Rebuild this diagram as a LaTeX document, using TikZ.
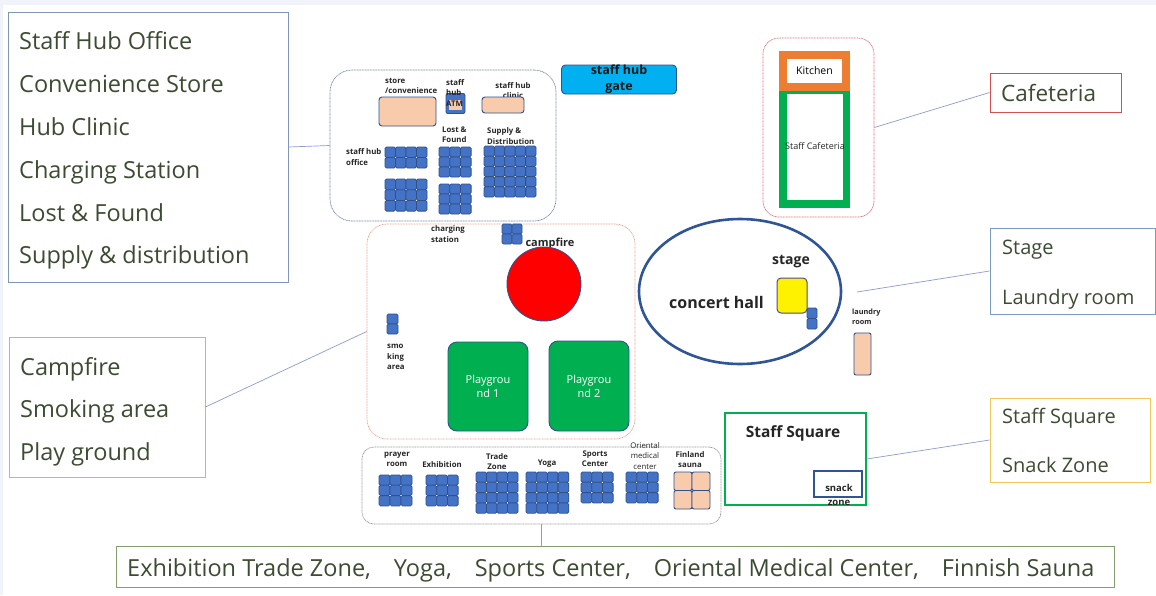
\documentclass[tikz,border=0pt]{standalone}
\usepackage{fontspec}
\setmainfont{Open Sans}
\usetikzlibrary{shapes.geometric}
\definecolor{lbltxt}{RGB}{60,76,50}
\definecolor{hubbd}{RGB}{128,150,185}
\definecolor{orgbd}{RGB}{230,170,120}
\definecolor{cafebd}{RGB}{210,80,80}
\definecolor{stagebd}{RGB}{120,155,190}
\definecolor{goldbd}{RGB}{240,200,90}
\definecolor{botbd}{RGB}{130,160,110}
\definecolor{connc}{RGB}{140,155,210}
\definecolor{cellfill}{RGB}{68,114,196}
\definecolor{celldraw}{RGB}{47,82,143}
\definecolor{peach}{RGB}{248,203,173}
\definecolor{cyanbox}{RGB}{0,176,240}
\definecolor{grn}{RGB}{0,176,80}
\definecolor{kitor}{RGB}{237,125,49}
\definecolor{ellc}{RGB}{47,85,151}
\definecolor{bgblue}{RGB}{240,244,250}
\newcommand{\fsz}[2]{\fontsize{#1}{#2}\selectfont}
\newcommand{\cellgrid}[7][cellsty]{%
  \foreach \ci in {1,...,#4}{\foreach \cj in {1,...,#5}{%
    \draw[#1] ({#2+(\ci-1)*#6},{#3+(\cj-1)*#7}) rectangle ++(#6,#7);}}}
\tikzset{
  cellsty/.style={fill=cellfill,draw=celldraw,line width=0.8pt,rounded corners=1.5pt},
  peachcell/.style={fill=peach,draw=celldraw,line width=0.9pt,rounded corners=2pt},
  lblbox/.style={draw,line width=0.8pt,inner sep=0pt,fill=white},
  lbltext/.style={text=lbltxt,font=\fsz{23.5}{27},inner sep=0pt,anchor=base west},
  small/.style={text=black!85,font=\bfseries\fsz{7.8}{10.5},inner sep=0pt,align=center},
  smallL/.style={small,align=left,anchor=west},
  conn/.style={draw=connc,line width=0.7pt},
  area/.style={draw,line width=0.7pt,dash pattern=on 1pt off 0.6pt,inner sep=0pt},
  solidbox/.style={draw=celldraw,line width=0.9pt,inner sep=0pt},
}
\begin{document}
\begin{tikzpicture}[x=1pt,y=-1pt]
\useasboundingbox (0,0) rectangle (1156,595);
\fill[bgblue] (0,0) rectangle (1156,595);
\fill[white] (3,5) rectangle (1156,595);

% ---------- staff hub area ----------
\node[area,draw=hubbd!90!black,rounded corners=22pt,minimum width=226pt,minimum height=151pt] (hub) at (443,145.5) {};
\node[smallL,anchor=north west,fill=none] (storet) at (385,78) {store\\/convenience};
\node[solidbox,fill=peach,rounded corners=3pt,minimum width=57pt,minimum height=29pt] (store) at (407.5,111.5) {};
\node[solidbox,fill=cellfill,rounded corners=2pt,minimum width=19pt,minimum height=20pt] (atm) at (455.5,103.5) {};
\node[fill=peach,inner sep=0pt,minimum width=13pt,minimum height=10pt] (atmin) at (455.5,105) {};
\node[smallL,anchor=north west] (atmt) at (446,79) {staff\\hub\\ATM};
\node[small,anchor=north] (clinict) at (513,82) {staff hub\\clinic};
\node[solidbox,fill=peach,rounded corners=3pt,minimum width=42pt,minimum height=16pt] (clinic) at (503,105) {};
\node[smallL] (lostt) at (442,134.5) {Lost \&\\Found};
\node[smallL] (supt) at (487,136) {Supply \&\\Distribution};
\node[smallL] (offt) at (346,157) {staff hub\\office};
\cellgrid{385}{147}{4}{2}{10.5}{10.5}
\cellgrid{385}{179}{4}{3}{10.5}{10.7}
\cellgrid{439}{147}{3}{3}{10.7}{10}
\cellgrid{439}{184}{3}{3}{10.7}{10}
\cellgrid{484}{146}{5}{5}{10.4}{10.2}

% gate
\node[solidbox,fill=cyanbox,rounded corners=4pt,minimum width=115pt,minimum height=29pt,
      font=\bfseries\fsz{12.5}{16},align=center,text=black!90] (gate) at (619,79.5) {staff hub\\gate};

% ---------- campfire area ----------
\node[area,draw={rgb,255:red,240;green,165;blue,145},rounded corners=20pt,minimum width=268pt,minimum height=215pt] (camp) at (501,331.5) {};
\node[smallL] (chargt) at (431,234) {charging\\station};
\cellgrid{502}{224}{2}{2}{10}{10}
\node[small,font=\bfseries\fsz{11}{13}] (campt) at (550,244) {campfire};
\node[circle,fill=red,draw=celldraw,line width=0.9pt,minimum size=74pt,inner sep=0pt] (fire) at (544,284) {};
\cellgrid{387}{314}{1}{2}{11}{10}
\node[smallL,anchor=north west] (smokt) at (387,344) {smo\\king\\area};
\node[solidbox,fill=grn,rounded corners=9pt,minimum width=80pt,minimum height=89pt,
      text=white,font=\fsz{11}{14},align=center] (pg1) at (488,386.5) {Playgrou\\nd 1};
\node[solidbox,fill=grn,rounded corners=9pt,minimum width=80pt,minimum height=90pt,
      text=white,font=\fsz{11}{14},align=center] (pg2) at (589,386) {Playgrou\\nd 2};

% ---------- bottom row ----------
\node[area,draw=black!40,rounded corners=12pt,minimum width=359pt,minimum height=77pt] (bbox) at (541.5,485.5) {};
\node[small] (prayt) at (397,459.5) {prayer\\room};
\node[small] (exht) at (442,465) {Exhibition};
\node[small] (tradet) at (497,461.5) {Trade\\Zone};
\node[small] (yogat) at (547,464) {Yoga};
\node[small] (sportt) at (595,458.5) {Sports\\Center};
\node[small,font=\fsz{7.8}{10.5}] (orit) at (645,456) {Oriental\\medical\\center};
\node[small] (saunat) at (690,459.5) {Finland\\sauna};
\cellgrid{379}{475}{3}{3}{11}{10.3}
\cellgrid{426}{475}{3}{3}{10.7}{10.3}
\cellgrid{476}{472}{4}{4}{10.5}{10.3}
\cellgrid{526}{472}{4}{4}{10.7}{10.3}
\cellgrid{581}{472}{3}{3}{10.7}{10.3}
\cellgrid{626}{472}{3}{3}{10.7}{10.3}
\cellgrid[peachcell]{674}{472}{2}{2}{18}{18.5}

% ---------- cafeteria ----------
\node[area,draw={rgb,255:red,230;green,110;blue,120},rounded corners=16pt,minimum width=111pt,minimum height=179pt] (cafe) at (818.5,127.5) {};
\node[fill=kitor,inner sep=0pt,minimum width=71pt,minimum height=40pt] (kitchen) at (814.5,71) {};
\node[fill=white,inner sep=0pt,minimum width=55pt,minimum height=24pt,font=\fsz{10.5}{13}] (kitchent) at (814.5,71) {Kitchen};
\node[fill=grn,inner sep=0pt,minimum width=71pt,minimum height=117pt] (scaf) at (814.5,149.5) {};
\node[fill=white,inner sep=0pt,minimum width=56pt,minimum height=106pt] (scafin) at (815,147) {};
\node[inner sep=0pt,font=\fsz{9}{11},text=black!85] (scaft) at (815,146) {Staff Cafeteria};

% ---------- concert hall ----------
\node[ellipse,draw=ellc,line width=2.6pt,minimum width=202pt,minimum height=145pt,inner sep=0pt] (hall) at (740,291.5) {};
\node[small,font=\bfseries\fsz{14}{16}] (staget) at (791,262) {stage};
\node[small,font=\bfseries\fsz{16}{18}] (hallt) at (716.5,302) {concert hall};
\node[fill=yellow,draw=black!60!blue!70,line width=1pt,rounded corners=4pt,minimum width=30pt,minimum height=35pt,inner sep=0pt] (stage) at (792,295.5) {};
\cellgrid{807}{308}{1}{2}{10}{10.5}
\node[smallL,font=\bfseries\fsz{7.3}{10}] (laundt) at (852,317) {laundry\\room};
\node[solidbox,fill=peach,rounded corners=2pt,minimum width=17pt,minimum height=42pt] (laundry) at (862.5,354) {};
\coordinate (laundc) at (857,292);

% ---------- staff square ----------
\node[draw=grn,line width=1.4pt,inner sep=0pt,minimum width=141pt,minimum height=92pt] (square) at (795.5,459) {};
\node[small,font=\bfseries\fsz{15.5}{18}] (squaret) at (793,433) {Staff Square};
\node[draw=ellc,line width=1.2pt,inner sep=0pt,minimum width=48pt,minimum height=26pt] (snack) at (838,484) {};
\node[small,font=\bfseries\fsz{9.5}{14}] (snackt) at (839,494.5) {snack\\zone};

% ---------- label boxes ----------
\node[lblbox,draw=hubbd,minimum width=280pt,minimum height=270pt] (hublabel) at (148,147) {};
\node[lbltext] at (19,49.5) {Staff Hub Office};
\node[lbltext] at (19,92.5) {Convenience Store};
\node[lbltext] at (19,135.5) {Hub Clinic};
\node[lbltext] at (19,178.5) {Charging Station};
\node[lbltext] at (19,221.5) {Lost \& Found};
\node[lbltext] at (19,263.5) {Supply \& distribution};

\node[lblbox,draw=orgbd,minimum width=196pt,minimum height=140pt] (camplabel) at (107,407) {};
\node[lbltext] at (20,375.5) {Campfire};
\node[lbltext] at (20,417.5) {Smoking area};
\node[lbltext] at (20,460.5) {Play ground};

\node[lblbox,draw=cafebd,minimum width=131pt,minimum height=39pt] (cafelabel) at (1055.5,92.5) {};
\node[lbltext,font=\fsz{22.5}{26}] at (1001,101.5) {Cafeteria};

\node[lblbox,draw=stagebd,minimum width=165pt,minimum height=86pt] (stagelabel) at (1072.5,271) {};
\node[lbltext,font=\fsz{20}{24}] at (1002,254.5) {Stage};
\node[lbltext,font=\fsz{20}{24}] at (1002,304.5) {Laundry room};

\node[lblbox,draw=goldbd,minimum width=160pt,minimum height=84pt] (sqlabel) at (1070,440) {};
\node[lbltext,font=\fsz{20}{24}] at (1002,423.5) {Staff Square};
\node[lbltext,font=\fsz{20}{24}] at (1002,472.5) {Snack Zone};

\node[lblbox,draw=botbd,minimum width=998pt,minimum height=41pt] (botlabel) at (615,566.5) {};
\node[lbltext] at (127,576.5) {Exhibition Trade Zone,\hspace{23pt}Yoga,\hspace{23pt}Sports Center,\hspace{23pt}Oriental Medical Center,\hspace{23pt}Finnish Sauna};

% ---------- connectors ----------
\draw[conn] (hublabel.east) -- (hub.west);
\draw[conn] (camplabel.east) -- (camp.west);
\draw[conn] (cafe.east) -- (cafelabel.west);
\draw[conn] (laundc) -- (stagelabel.west);
\draw[conn] (square.east) -- (sqlabel.west);
\draw[conn] (bbox.south) -- (bbox.south |- botlabel.north);
\end{tikzpicture}
\end{document}
